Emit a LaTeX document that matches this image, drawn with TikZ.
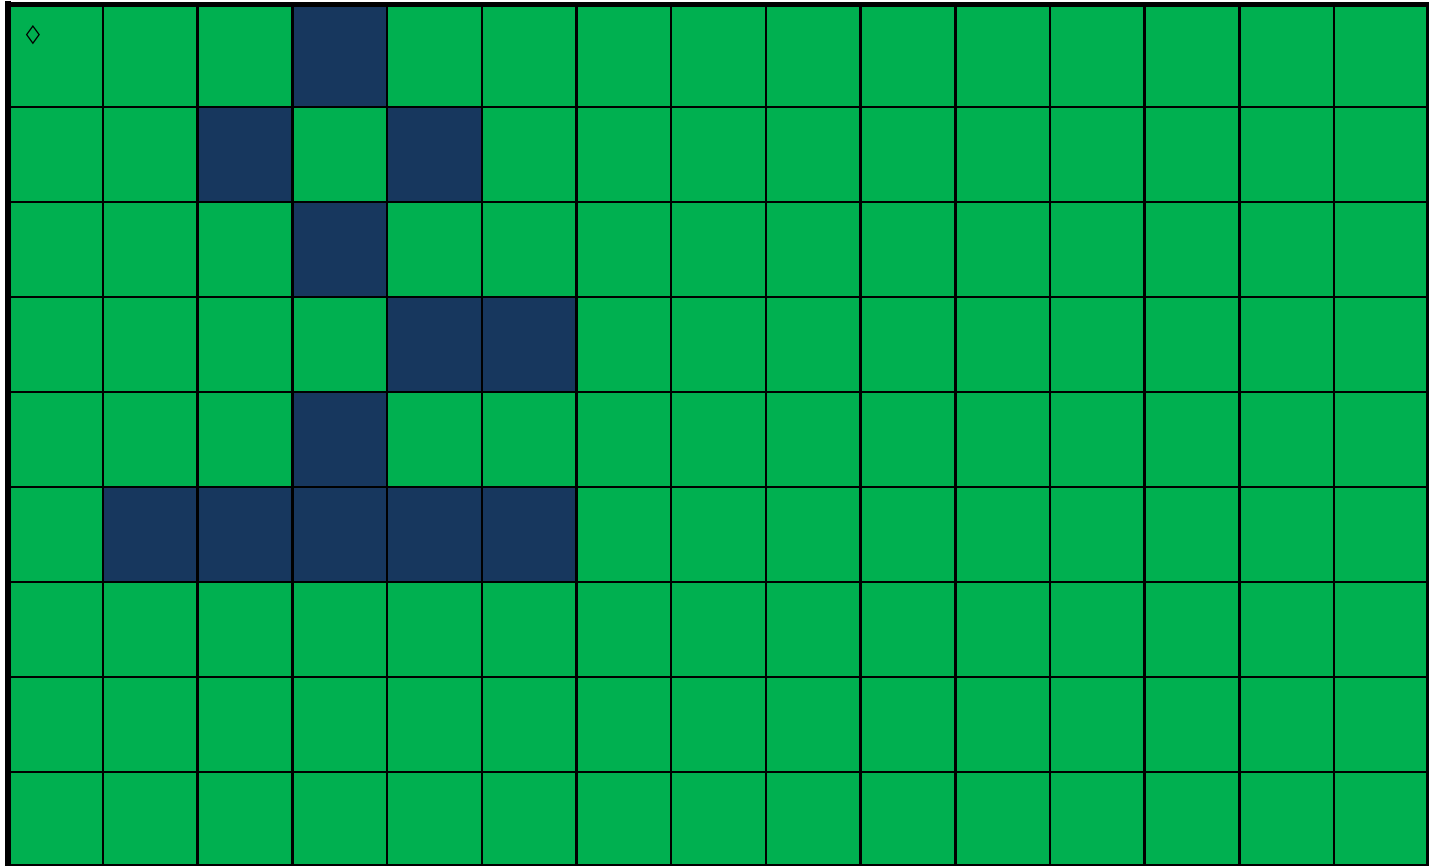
\documentclass[tikz,border=0pt]{standalone}
\usepackage{fontspec}
\newfontfamily\symfont{DejaVu Sans}
\definecolor{cellgreen}{HTML}{00B050}
\definecolor{cellnavy}{HTML}{17375E}

\begin{document}
\begin{tikzpicture}[x=0.01cm,y=-0.01cm,
  gridline/.style={black,line width=0.72pt},
  wall/.style={fill=cellnavy}]
\useasboundingbox (0,0) rectangle (1429,866);
% background cells
\fill[cellgreen] (8,4.5) rectangle (1427.5,865);
% dark cells (column/row)
\foreach \c/\r in {3/0, 2/1, 4/1, 3/2, 4/3, 5/3, 3/4, 1/5, 2/5, 3/5, 4/5, 5/5}
  \fill[wall] ({8.3+94.7*\c},{ifthenelse(\r==0,4.5,12+95*\r)}) rectangle ({8.3+94.7*(\c+1)},{12+95*(\r+1)});
% grid lines
\foreach \i in {1,...,14}
  \draw[gridline] ({8.3+94.7*\i},4.5) -- ({8.3+94.7*\i},865);
\foreach \j in {1,...,8}
  \draw[gridline] (8,{12+95*\j}) -- (1427.5,{12+95*\j});
% outer frame
\draw[black,line width=1.7pt] (8,1) -- (8,866);
\draw[black,line width=1.45pt] (5,4.5) -- (1429,4.5);
\draw[black,line width=0.9pt] (1427.5,4.5) -- (1427.5,866);
\draw[black,line width=0.6pt] (8,865) -- (1429,865);
% start marker
\node[inner sep=0pt,font=\symfont\bfseries\fontsize{5.3}{5.3}\selectfont] (start) at (33,35) {\scalebox{1.55}[1]{◊}};
\end{tikzpicture}
\end{document}
